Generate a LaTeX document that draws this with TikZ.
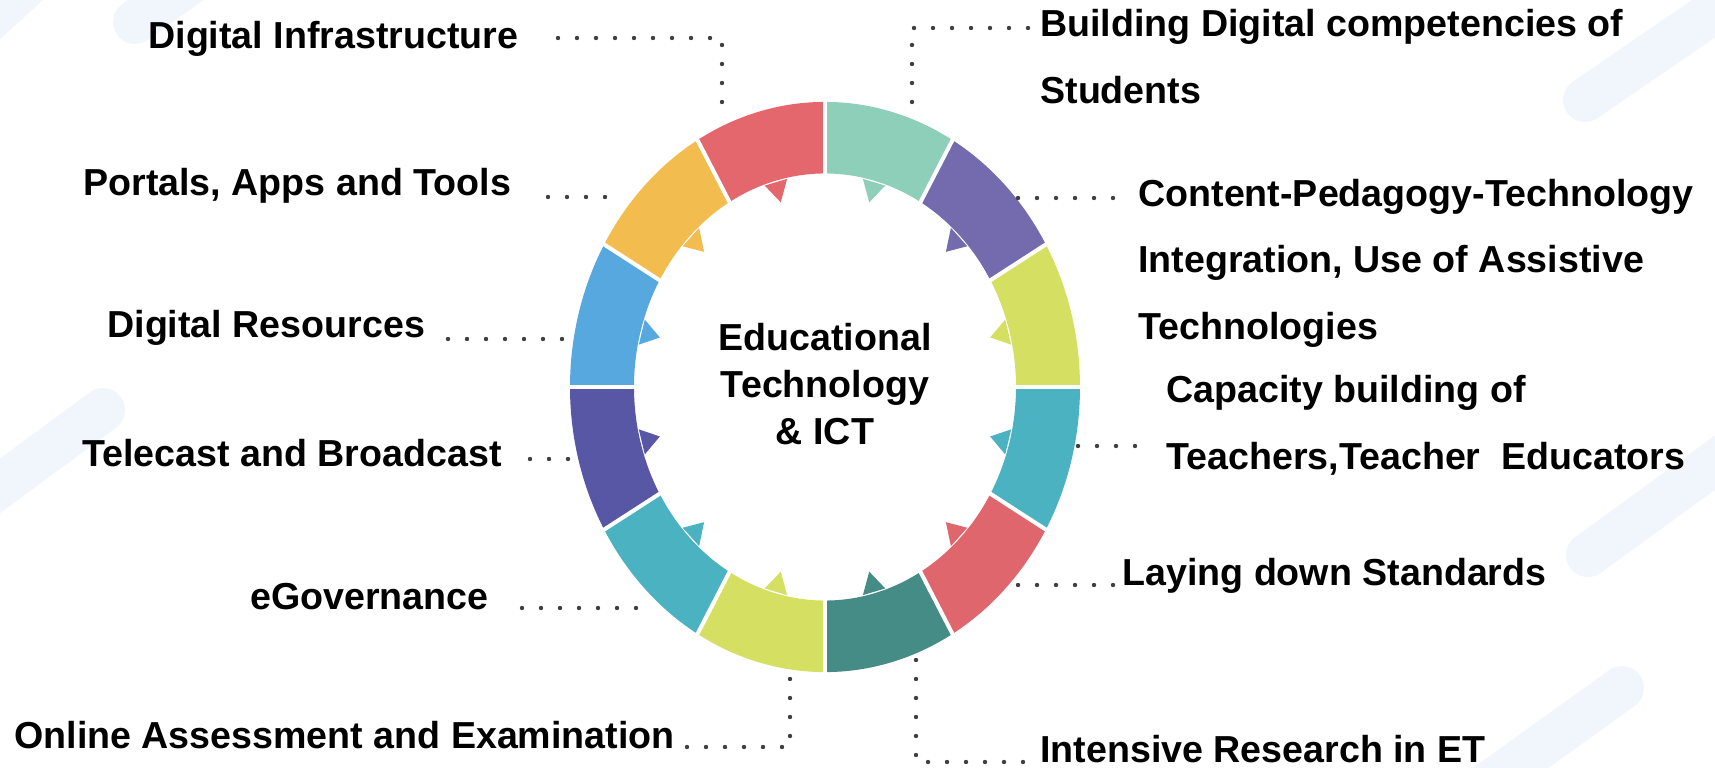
\documentclass[tikz,border=0pt]{standalone}
\usepackage{fontspec}
\setmainfont{Liberation Sans}
\usepackage{xcolor}
\definecolor{segLime}{HTML}{D5E063}
\definecolor{segPurple}{HTML}{746BAE}
\definecolor{segMint}{HTML}{8ECFBA}
\definecolor{segRed}{HTML}{E5676E}
\definecolor{segOrange}{HTML}{F2BC4F}
\definecolor{segBlue}{HTML}{57A8DE}
\definecolor{segIndigo}{HTML}{5757A5}
\definecolor{segTeal}{HTML}{4BB2C2}
\definecolor{segDark}{HTML}{458B86}
\definecolor{segRose}{HTML}{E0666D}
\definecolor{dotgray}{HTML}{404040}
\definecolor{stripe}{HTML}{F1F6FD}
\tikzset{
  lbl/.style={anchor=base west, inner sep=0pt, align=left, font=\bfseries\fontsize{18.8}{33.5}\selectfont},
  ctr/.style={anchor=base, inner sep=0pt, align=center, font=\bfseries\fontsize{18.8}{23.75}\selectfont},
  dotline/.style={dotgray, line width=2.2pt, line cap=round, dash pattern=on 0pt off 9.5pt},
  bgstripe/.style={stripe, line width=22pt, line cap=round},
  gap/.style={white, line width=2pt}
}
\begin{document}
\begin{tikzpicture}[x=0.5pt, y=0.5pt]
\fill[white] (0,0) rectangle (1715,767);
\useasboundingbox (0,0) rectangle (1715,767);
\begin{scope}
\clip (0,0) rectangle (1715,767);
\draw[bgstripe] (-58,705) -- (71,822);
\draw[bgstripe] (135,745) -- (250,827);
\draw[bgstripe] (103,357) -- (-60,237);
\draw[bgstripe] (1585,667) -- (1760,787);
\draw[bgstripe] (1588,212) -- (1760,337);
\draw[bgstripe] (1622,79) -- (1480,-23);
\end{scope}

\begin{scope}[shift={(825,380)}, yscale=1.118]
\foreach \a/\c in {0/segLime, 30/segPurple, 60/segMint, 90/segRed, 120/segOrange, 150/segBlue,
                   180/segIndigo, 210/segTeal, 240/segLime, 270/segDark, 300/segRose, 330/segTeal} {
  \fill[\c] (\a:255) arc[start angle=\a, end angle=\a+30, radius=255]
    -- (\a+30:191) arc[start angle=\a+30, end angle=\a, radius=191] -- cycle;
  \fill[\c] (\a+11.5:190) -- (\a+15:171) -- (\a+18.5:190) -- cycle;
}
\foreach \a in {0,30,...,330}
  \draw[gap] (\a:180) -- (\a:262);
\end{scope}

\node[ctr] (core) at (825,322) {Educational\\Technology\\\& ICT};

\node[lbl] (infra) at (148,718) {Digital Infrastructure};
\node[lbl] (students) at (1040,663) {Building Digital competencies of\\Students};
\node[lbl] (cpt) at (1138,427) {Content-Pedagogy-Technology\\Integration, Use of Assistive\\Technologies};
\node[lbl] (capacity) at (1166,298) {Capacity building of\\Teachers,Teacher\ \ Educators};
\node[lbl] (standards) at (1122,182) {Laying down Standards};
\node[lbl] (research) at (1040,5) {Intensive Research in ET};
\node[lbl] (online) at (14,19) {Online Assessment and Examination};
\node[lbl] (egov) at (250,158) {eGovernance};
\node[lbl] (telecast) at (82,300) {Telecast and Broadcast};
\node[lbl] (digres) at (107,429) {Digital Resources};
\node[lbl] (portals) at (83,571) {Portals, Apps and Tools};

\coordinate (infraA) at (558,729);
\coordinate (infraB) at (722,729);
\coordinate (infraC) at (722,654);
\coordinate (studA) at (1028,739);
\coordinate (studB) at (912,739);
\coordinate (studC) at (912,660);
\coordinate (cptA) at (1018,569);
\coordinate (cptB) at (1121,569);
\coordinate (capA) at (1078,321);
\coordinate (capB) at (1139,321);
\coordinate (stdA) at (1018,182);
\coordinate (stdB) at (1118,182);
\coordinate (resA) at (916,107);
\coordinate (resB) at (916,5);
\coordinate (resC) at (1030,5);
\coordinate (onlA) at (790,88);
\coordinate (onlB) at (790,20);
\coordinate (onlC) at (684,20);
\coordinate (egovA) at (636,159);
\coordinate (egovB) at (520,159);
\coordinate (telA) at (568,308);
\coordinate (telB) at (530,308);
\coordinate (resrcA) at (562,428);
\coordinate (resrcB) at (446,428);
\coordinate (portA) at (605,570);
\coordinate (portB) at (530,570);

\draw[dotline] (infraA) -- (infraB) -- (infraC);
\draw[dotline] (studA) -- (studB) -- (studC);
\draw[dotline] (cptA) -- (cptB);
\draw[dotline] (capA) -- (capB);
\draw[dotline] (stdA) -- (stdB);
\draw[dotline] (resA) -- (resB) -- (resC);
\draw[dotline] (onlA) -- (onlB) -- (onlC);
\draw[dotline] (egovA) -- (egovB);
\draw[dotline] (telA) -- (telB);
\draw[dotline] (resrcA) -- (resrcB);
\draw[dotline] (portA) -- (portB);
\end{tikzpicture}
\end{document}
